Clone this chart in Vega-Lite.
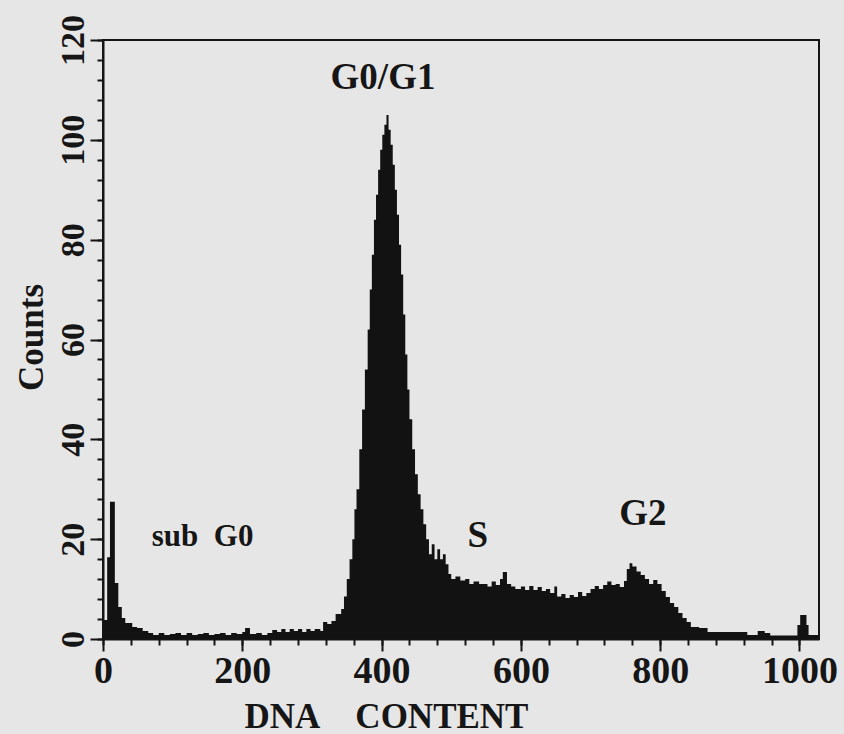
{
  "$schema": "https://vega.github.io/schema/vega-lite/v6.json",
  "width": 716,
  "height": 599,
  "autosize": {"type": "none"},
  "padding": {"left": 103, "top": 40, "right": 25, "bottom": 95},
  "background": "#e6e6e6",
  "config": {
    "view": {"stroke": "#151515", "strokeWidth": 2},
    "font": "Liberation Serif"
  },
  "datasets": {
    "histogram": [
      {"channel": 0, "count": 3.8}, {"channel": 6, "count": 16.4}, {"channel": 10, "count": 27.5},
      {"channel": 17, "count": 11.2}, {"channel": 22, "count": 6.4}, {"channel": 27, "count": 4.2},
      {"channel": 32, "count": 3.2}, {"channel": 42, "count": 2.4}, {"channel": 49, "count": 2.2},
      {"channel": 57, "count": 1.6}, {"channel": 65, "count": 1.2}, {"channel": 72, "count": 0.8},
      {"channel": 80, "count": 1.2}, {"channel": 88, "count": 0.8}, {"channel": 96, "count": 1.0},
      {"channel": 104, "count": 1.2}, {"channel": 112, "count": 0.8}, {"channel": 120, "count": 1.2},
      {"channel": 128, "count": 0.8}, {"channel": 136, "count": 1.0}, {"channel": 144, "count": 1.2},
      {"channel": 152, "count": 0.8}, {"channel": 160, "count": 1.0}, {"channel": 168, "count": 1.2},
      {"channel": 176, "count": 0.8}, {"channel": 184, "count": 1.2}, {"channel": 192, "count": 1.0},
      {"channel": 200, "count": 1.4}, {"channel": 204, "count": 2.2}, {"channel": 211, "count": 1.0},
      {"channel": 220, "count": 1.2}, {"channel": 228, "count": 0.8}, {"channel": 236, "count": 1.2},
      {"channel": 243, "count": 1.8}, {"channel": 250, "count": 1.4}, {"channel": 256, "count": 2.0},
      {"channel": 262, "count": 1.4}, {"channel": 268, "count": 2.0}, {"channel": 274, "count": 1.6},
      {"channel": 280, "count": 2.0}, {"channel": 286, "count": 1.4}, {"channel": 292, "count": 2.0},
      {"channel": 298, "count": 1.6}, {"channel": 304, "count": 2.0}, {"channel": 312, "count": 1.6},
      {"channel": 316, "count": 3.4}, {"channel": 322, "count": 3.0}, {"channel": 328, "count": 3.6},
      {"channel": 334, "count": 5.0}, {"channel": 342, "count": 6.0}, {"channel": 346, "count": 8.5},
      {"channel": 350, "count": 12}, {"channel": 354, "count": 16}, {"channel": 358, "count": 20},
      {"channel": 361, "count": 26}, {"channel": 364, "count": 30}, {"channel": 368, "count": 38},
      {"channel": 372, "count": 46}, {"channel": 376, "count": 54}, {"channel": 380, "count": 62},
      {"channel": 383, "count": 70}, {"channel": 386, "count": 77}, {"channel": 389, "count": 84},
      {"channel": 392, "count": 89}, {"channel": 395, "count": 94}, {"channel": 398, "count": 98},
      {"channel": 401, "count": 101}, {"channel": 404, "count": 103}, {"channel": 407, "count": 105},
      {"channel": 410, "count": 102}, {"channel": 413, "count": 99}, {"channel": 416, "count": 95},
      {"channel": 419, "count": 90}, {"channel": 422, "count": 85}, {"channel": 425, "count": 79},
      {"channel": 428, "count": 73}, {"channel": 431, "count": 65}, {"channel": 434, "count": 57},
      {"channel": 437, "count": 50}, {"channel": 440, "count": 44}, {"channel": 444, "count": 38},
      {"channel": 448, "count": 33}, {"channel": 452, "count": 29}, {"channel": 456, "count": 26},
      {"channel": 460, "count": 23}, {"channel": 464, "count": 20}, {"channel": 468, "count": 17},
      {"channel": 472, "count": 19}, {"channel": 476, "count": 16}, {"channel": 480, "count": 18},
      {"channel": 484, "count": 16}, {"channel": 488, "count": 17}, {"channel": 492, "count": 15},
      {"channel": 496, "count": 13}, {"channel": 500, "count": 12}, {"channel": 506, "count": 12.5},
      {"channel": 513, "count": 11.7}, {"channel": 520, "count": 12}, {"channel": 526, "count": 11},
      {"channel": 532, "count": 11.5}, {"channel": 540, "count": 11}, {"channel": 546, "count": 11},
      {"channel": 552, "count": 10.5}, {"channel": 558, "count": 11.5}, {"channel": 564, "count": 10.8},
      {"channel": 570, "count": 12}, {"channel": 574, "count": 13.4}, {"channel": 580, "count": 11},
      {"channel": 586, "count": 10.5}, {"channel": 592, "count": 10}, {"channel": 600, "count": 10.5},
      {"channel": 606, "count": 9.8}, {"channel": 612, "count": 10.6}, {"channel": 618, "count": 9.8},
      {"channel": 624, "count": 10.4}, {"channel": 630, "count": 9.6}, {"channel": 636, "count": 10},
      {"channel": 642, "count": 9.2}, {"channel": 648, "count": 10.5}, {"channel": 652, "count": 8.5},
      {"channel": 658, "count": 9}, {"channel": 664, "count": 8.2}, {"channel": 670, "count": 8.8},
      {"channel": 676, "count": 8.4}, {"channel": 682, "count": 9.4}, {"channel": 688, "count": 8.6},
      {"channel": 694, "count": 9.2}, {"channel": 700, "count": 10}, {"channel": 706, "count": 10.6},
      {"channel": 712, "count": 10}, {"channel": 718, "count": 10.8}, {"channel": 724, "count": 11.5},
      {"channel": 730, "count": 10.8}, {"channel": 736, "count": 11}, {"channel": 742, "count": 10.4},
      {"channel": 748, "count": 11.6}, {"channel": 752, "count": 14}, {"channel": 756, "count": 15.2},
      {"channel": 760, "count": 14.5}, {"channel": 766, "count": 13.5}, {"channel": 772, "count": 12.8},
      {"channel": 778, "count": 12}, {"channel": 784, "count": 11}, {"channel": 790, "count": 11.8},
      {"channel": 796, "count": 11}, {"channel": 802, "count": 9.6}, {"channel": 808, "count": 8.4},
      {"channel": 814, "count": 7.2}, {"channel": 820, "count": 6.4}, {"channel": 826, "count": 5.2},
      {"channel": 832, "count": 4.2}, {"channel": 838, "count": 3.4}, {"channel": 844, "count": 2.4},
      {"channel": 856, "count": 2.2}, {"channel": 868, "count": 1.4}, {"channel": 880, "count": 1.4},
      {"channel": 900, "count": 1.4}, {"channel": 925, "count": 0.8}, {"channel": 940, "count": 1.6},
      {"channel": 950, "count": 1.2}, {"channel": 958, "count": 0.7}, {"channel": 997, "count": 2.8},
      {"channel": 1001, "count": 4.8}, {"channel": 1010, "count": 2.8}, {"channel": 1013, "count": 0.8},
      {"channel": 1028, "count": 0.8}
    ],
    "phases": [
      {"label": "G0/G1", "channel": 402, "count": 110.2},
      {"label": "sub\u00a0\u00a0G0", "channel": 143, "count": 18.6},
      {"label": "S", "channel": 538, "count": 18.4},
      {"label": "G2", "channel": 775, "count": 22.8}
    ]
  },
  "resolve": {"axis": {"x": "independent", "y": "independent"}},
  "layer": [
    {
      "data": {"name": "histogram"},
      "mark": {"type": "area", "interpolate": "step-after", "color": "#121212"},
      "encoding": {
        "x": {
          "field": "channel",
          "type": "quantitative",
          "scale": {"domain": [0, 1028], "nice": false, "zero": false},
          "axis": {
            "orient": "bottom",
            "values": [0, 200, 400, 600, 800, 1000],
            "format": "d",
            "tickSize": 12,
            "tickColor": "#151515",
            "tickWidth": 2,
            "domainColor": "#151515",
            "domainWidth": 2,
            "grid": false,
            "labelFont": "Liberation Serif",
            "labelFontWeight": "bold",
            "labelFontSize": 38,
            "labelColor": "#161616",
            "labelPadding": 1,
            "labelBaseline": "top",
            "labelFlush": false,
            "labelOverlap": false,
            "labelBound": false,
            "title": "DNA\u00a0\u00a0\u00a0\u00a0CONTENT",
            "titleFont": "Liberation Serif",
            "titleFontWeight": "bold",
            "titleFontSize": 35,
            "titleColor": "#161616",
            "titleX": 283,
            "titleY": 88,
            "titleAlign": "center",
            "titleBaseline": "alphabetic"
          }
        },
        "y": {
          "field": "count",
          "type": "quantitative",
          "scale": {"domain": [0, 120], "nice": false},
          "axis": {
            "orient": "left",
            "values": [0, 20, 40, 60, 80, 100, 120],
            "tickSize": 13,
            "tickColor": "#151515",
            "tickWidth": 2,
            "domainColor": "#151515",
            "domainWidth": 2,
            "grid": false,
            "labelFont": "Liberation Serif",
            "labelFontWeight": "bold",
            "labelFontSize": 34,
            "labelColor": "#161616",
            "labelAngle": -90,
            "labelAlign": "center",
            "labelBaseline": "alphabetic",
            "labelPadding": 7,
            "labelFlush": false,
            "labelOverlap": false,
            "labelBound": false,
            "title": "Counts",
            "titleFont": "Liberation Serif",
            "titleFontWeight": "bold",
            "titleFontSize": 35,
            "titleColor": "#161616",
            "titleAngle": -90,
            "titleX": -61,
            "titleY": 297,
            "titleAlign": "center",
            "titleBaseline": "alphabetic"
          }
        }
      }
    },
    {
      "data": {"name": "phases"},
      "mark": {"type": "text", "font": "Liberation Serif", "fontWeight": "bold", "align": "center", "baseline": "alphabetic", "color": "#161616"},
      "encoding": {
        "x": {
          "field": "channel",
          "type": "quantitative",
          "axis": {
            "orient": "bottom",
            "values": [0, 40, 80, 120, 160, 200, 240, 280, 320, 360, 400, 440, 480, 520, 560, 600, 640, 680, 720, 760, 800, 840, 880, 920, 960, 1000],
            "tickSize": 6,
            "tickColor": "#151515",
            "tickWidth": 2,
            "domain": false,
            "labels": false,
            "grid": false,
            "title": null
          }
        },
        "y": {
          "field": "count",
          "type": "quantitative",
          "axis": {
            "orient": "left",
            "values": [0, 4, 8, 12, 16, 20, 24, 28, 32, 36, 40, 44, 48, 52, 56, 60, 64, 68, 72, 76, 80, 84, 88, 92, 96, 100, 104, 108, 112, 116, 120],
            "tickSize": 6,
            "tickColor": "#151515",
            "tickWidth": 2,
            "domain": false,
            "labels": false,
            "grid": false,
            "title": null
          }
        },
        "text": {"field": "label"},
        "size": {"condition": {"test": "datum.channel < 200", "value": 31}, "value": 37}
      }
    }
  ]
}
